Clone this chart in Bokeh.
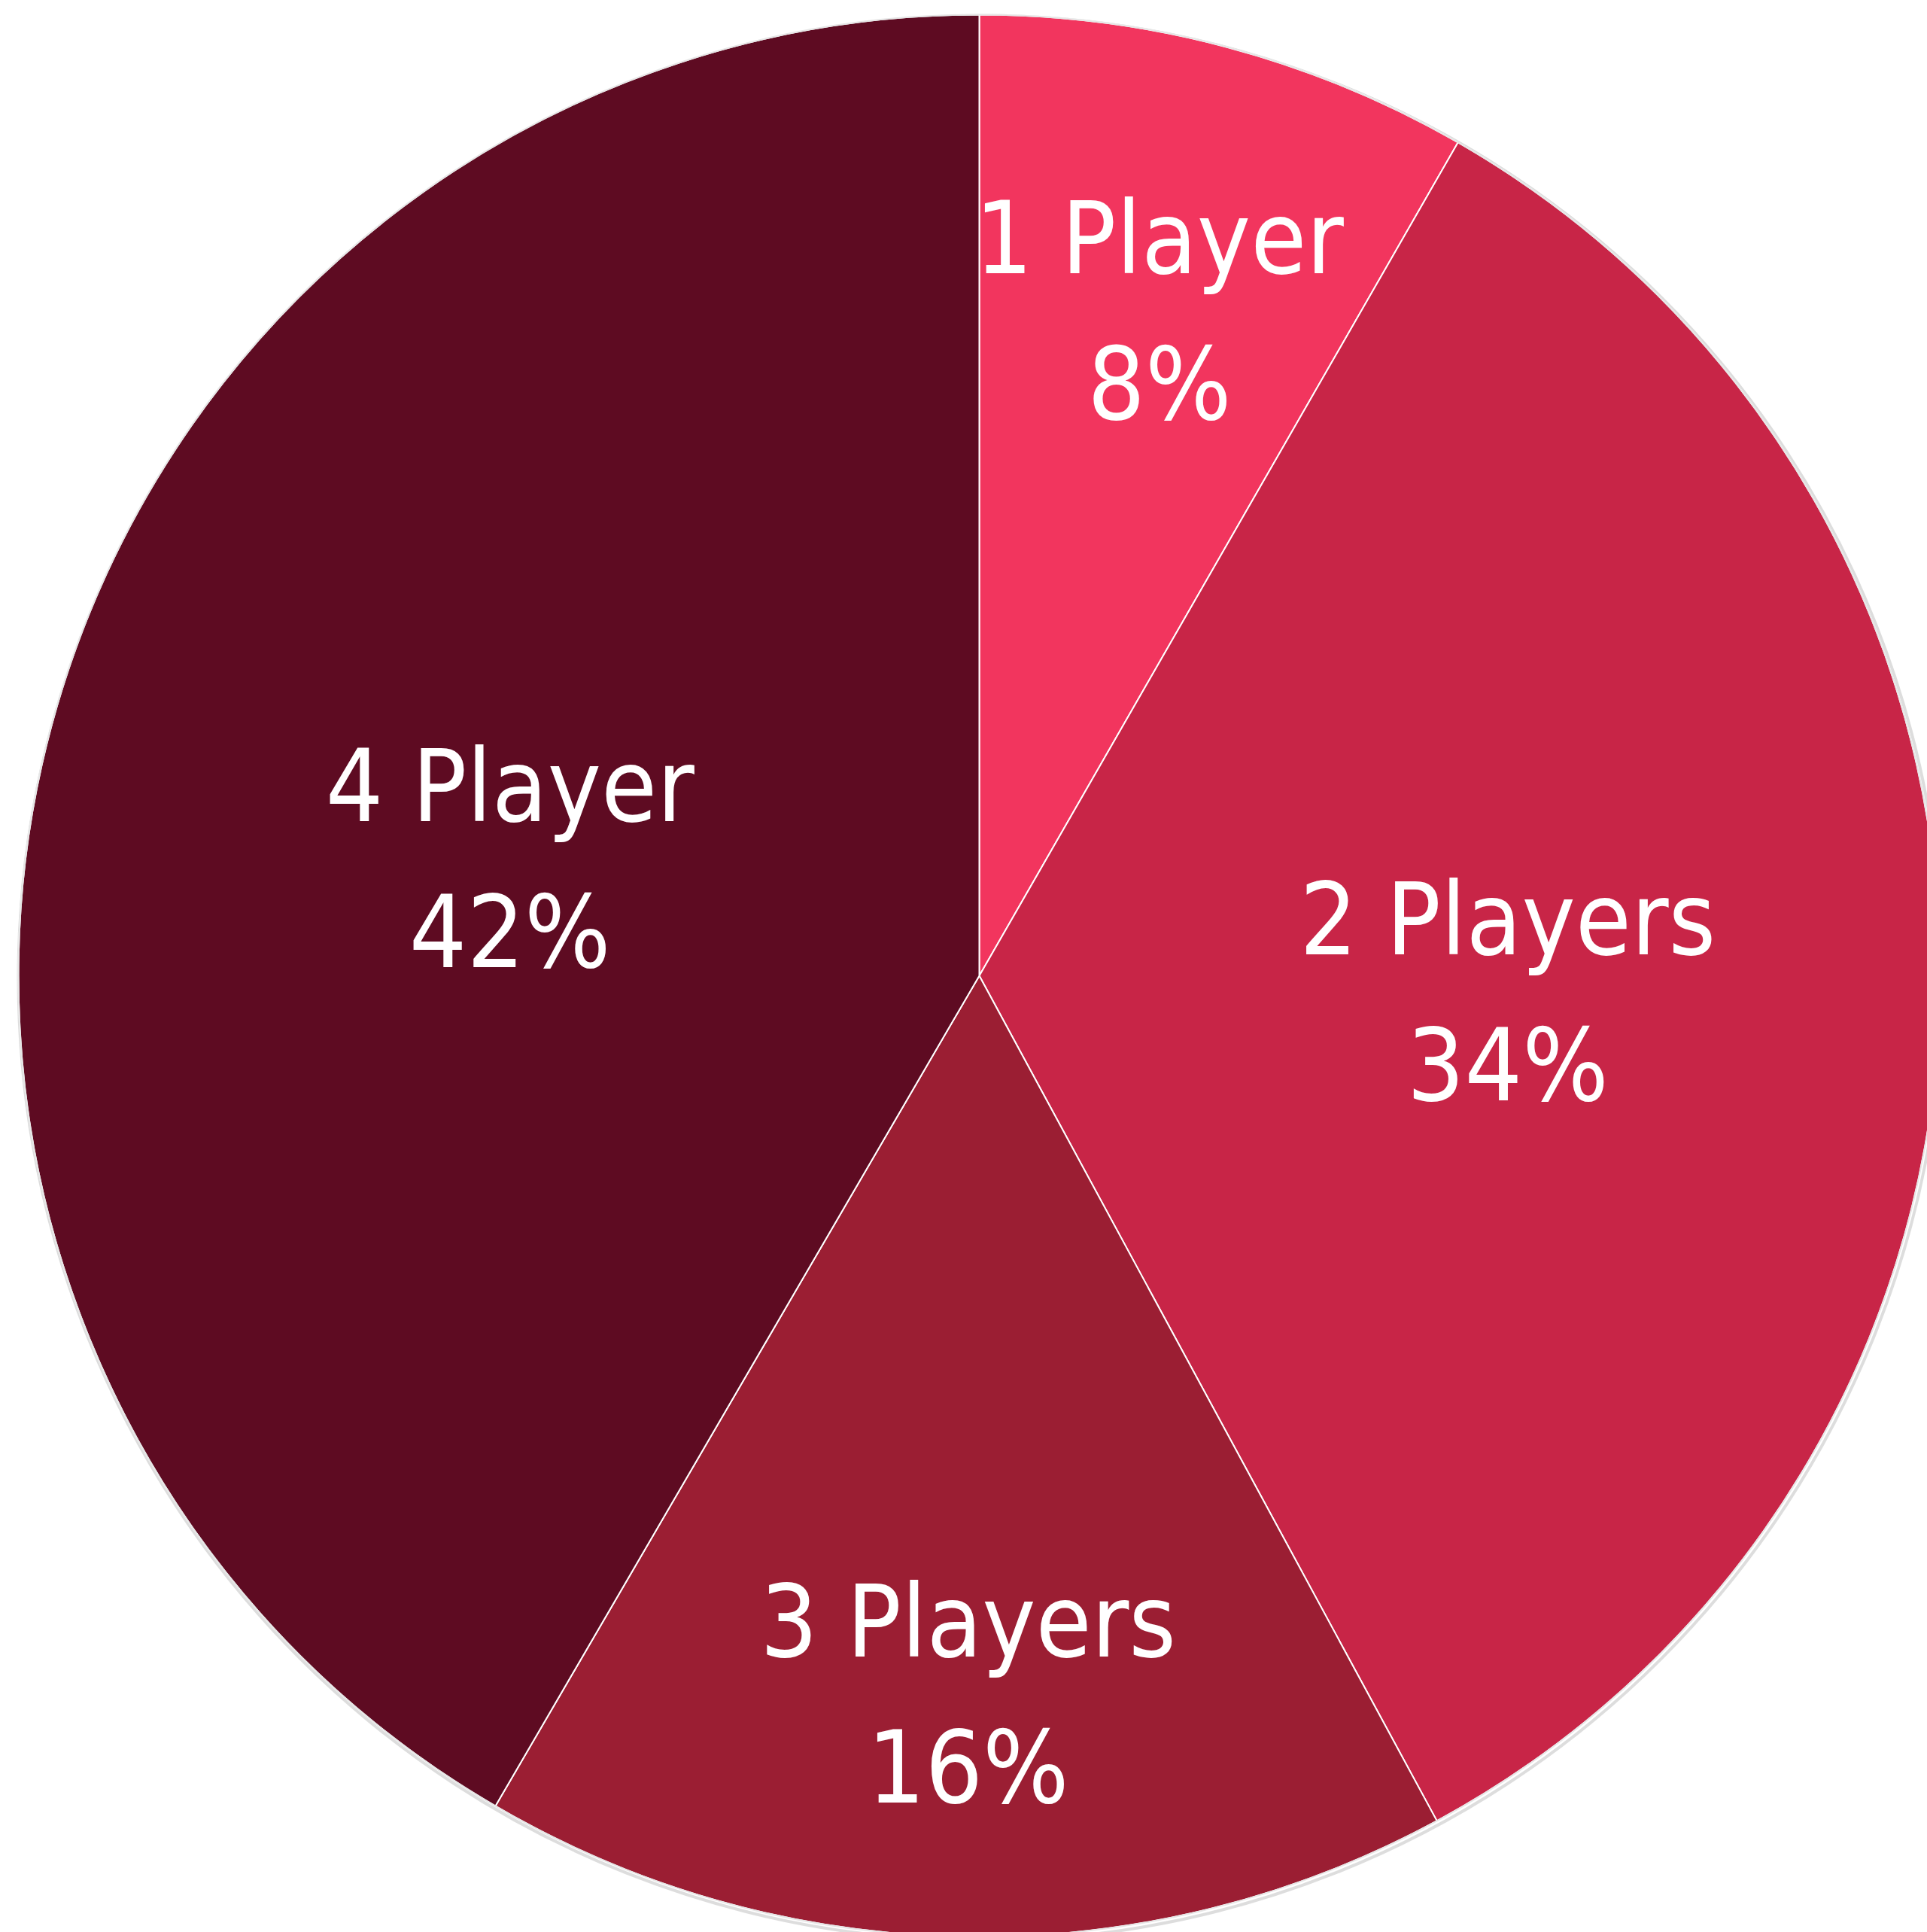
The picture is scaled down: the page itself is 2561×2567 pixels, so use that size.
import math
from bokeh.plotting import figure
from bokeh.models import Range1d, ColumnDataSource
from bokeh.core.properties import value
from bokeh.embed import file_html
from bokeh.resources import INLINE

# ---- data ----
categories = ["1 Player", "2 Players", "3 Players", "4 Player"]
shares = [8.3, 33.8, 16.3, 41.6]
colors = ["#F2355E", "#C82547", "#9B1E33", "#5E0B22"]

# ---- layout / style ----
W, H = 2561, 2567
CX, CY = 1301, H - 1296
R = 1277
label_radius_frac = [0.727, 0.55, 0.737, 0.506]
FONT = "'DejaVu Sans Condensed', 'Liberation Sans Narrow', Roboto, sans-serif"
FONT_SIZE = "134px"
LINE_GAP = 194
TEXT_SHIFT = 14

total = sum(shares)
starts, ends, mids = [], [], []
cum = 0.0
for s in shares:
    a0 = math.pi / 2 - 2 * math.pi * cum / total
    cum += s
    a1 = math.pi / 2 - 2 * math.pi * cum / total
    starts.append(a0)
    ends.append(a1)
    mids.append((a0 + a1) / 2)

p = figure(width=W, height=H, output_backend="svg", toolbar_location=None,
           x_range=Range1d(0, W), y_range=Range1d(0, H), min_border=0)
p.axis.visible = False
p.grid.visible = False
p.outline_line_color = None
p.background_fill_color = "white"
p.border_fill_color = "white"

# soft outline / shadow
p.circle(x=[CX + 2], y=[CY - 3], radius=R + 2, fill_color=None,
         line_color="#d4d4d4", line_width=4, line_alpha=0.8)

src = ColumnDataSource(dict(x=[CX] * len(shares), y=[CY] * len(shares),
                            start=starts, end=ends, color=colors))
p.wedge(x="x", y="y", radius=R, start_angle="start", end_angle="end",
        direction="clock", fill_color="color", line_color="white",
        line_width=2, source=src)

p.circle(x=[CX], y=[CY], radius=R, fill_color=None,
         line_color="#e6e6e6", line_width=2)

lx, ly, l1, l2 = [], [], [], []
for cat, s, m, f in zip(categories, shares, mids, label_radius_frac):
    lx.append(CX + R * f * math.cos(m))
    ly.append(CY + R * f * math.sin(m))
    l1.append(cat)
    l2.append(f"{round(100 * s / total)}%")

lsrc = ColumnDataSource(dict(x=lx, y=ly, t1=l1, t2=l2))
common = dict(text_color="white", text_font=value(FONT), text_font_size=FONT_SIZE,
              text_align="center", text_baseline="middle")
p.text(x="x", y="y", text="t1", y_offset=-LINE_GAP / 2 + TEXT_SHIFT, source=lsrc, **common)
p.text(x="x", y="y", text="t2", y_offset=LINE_GAP / 2 + TEXT_SHIFT, source=lsrc, **common)

open("out.html", "w").write(file_html(p, INLINE))
